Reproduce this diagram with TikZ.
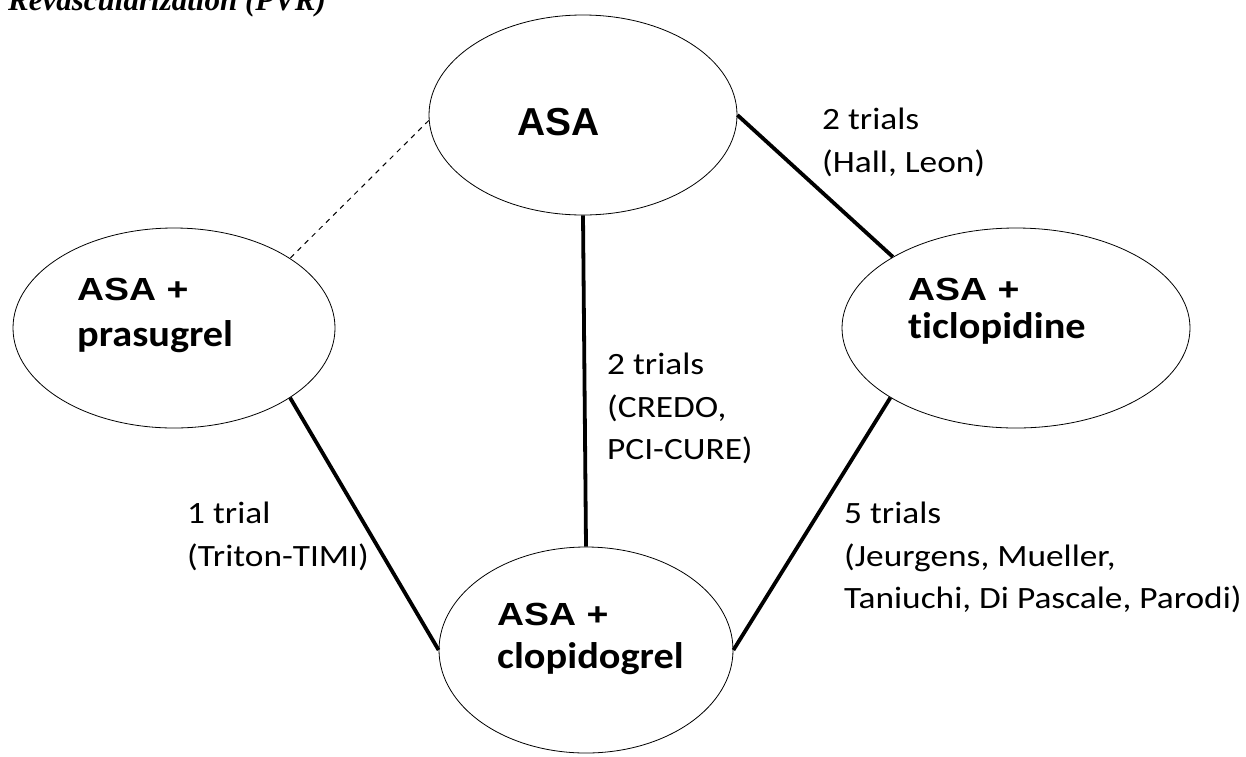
\documentclass[tikz,border=0pt]{standalone}
\usepackage{fontspec}
\setmainfont{Carlito}
\newfontfamily\asafont{Liberation Sans}
\newfontfamily\plusfont[FakeStretch=1.17]{Liberation Sans}
\newfontfamily\namefont[FakeStretch=1.09, Ligatures=NoCommon]{Carlito}
\newfontfamily\countfont[FakeStretch=1.14, Ligatures=NoCommon]{Carlito}
\newfontfamily\titlefont{Liberation Serif}
\usetikzlibrary{shapes.geometric}
\begin{document}
\begin{tikzpicture}[x=1pt, y=-1pt,
        drug/.style={draw, ellipse, line width=0.8pt, inner sep=0pt},
        trial/.style={line width=3.8pt},
        weak/.style={line width=1pt, dash pattern=on 5pt off 5pt},
        drugtop/.style={font=\plusfont\bfseries\fontsize{32}{38}\selectfont, anchor=base west, inner sep=0pt},
        drugname/.style={font=\namefont\bfseries\fontsize{37}{44}\selectfont, anchor=base west, inner sep=0pt},
        count/.style={font=\countfont\fontsize{31}{42.5}\selectfont, align=left, anchor=north west, inner sep=0pt}]
        \useasboundingbox (0,0) rectangle (1246,756);
        \node[font=\titlefont\bfseries\itshape\fontsize{31}{36}\selectfont, anchor=base west, inner sep=0pt]
            (title) at (8,10) {Revascularization (PVR)};
        \node[drug, minimum width=308pt, minimum height=200pt] (asa) at (583,115) {};
        \node[drug, minimum width=322pt, minimum height=200pt] (pras) at (174,328) {};
        \node[drug, minimum width=348pt, minimum height=200pt] (tic) at (1016,328) {};
        \node[drug, minimum width=294pt, minimum height=206pt] (clop) at (586,650) {};
        \node[drugtop, font=\asafont\bfseries\fontsize{39}{44}\selectfont] at (517,135) {ASA};
        \node[drugtop] at (77,300) {ASA +};
        \node[drugname] at (77,346) {prasugrel};
        \node[drugtop] at (908,300) {ASA +};
        \node[drugname] at (908,338) {ticlopidine};
        \node[drugtop] at (497,625) {ASA +};
        \node[drugname] at (497,668) {clopidogrel};
        \draw[weak] (asa.182) -- (pras.31);
        \draw[trial] (asa.south) -- (clop.north);
        \draw[trial] (asa.east) -- (tic.150);
        \draw[trial] (pras.-31) -- (clop.west);
        \draw[trial] (tic.209) -- (clop.east);
        \node[count] (hall) at (822,108) {2 trials\\(Hall, Leon)};
        \node[count] (credo) at (607,353) {2 trials\\(CREDO,\\PCI-CURE)};
        \node[count] (triton) at (187,502) {1 trial\\(Triton-TIMI)};
        \node[count] (jeur) at (844,502) {5 trials\\(Jeurgens, Mueller,\\Taniuchi, Di Pascale, Parodi)};
    \end{tikzpicture}
\end{document}
